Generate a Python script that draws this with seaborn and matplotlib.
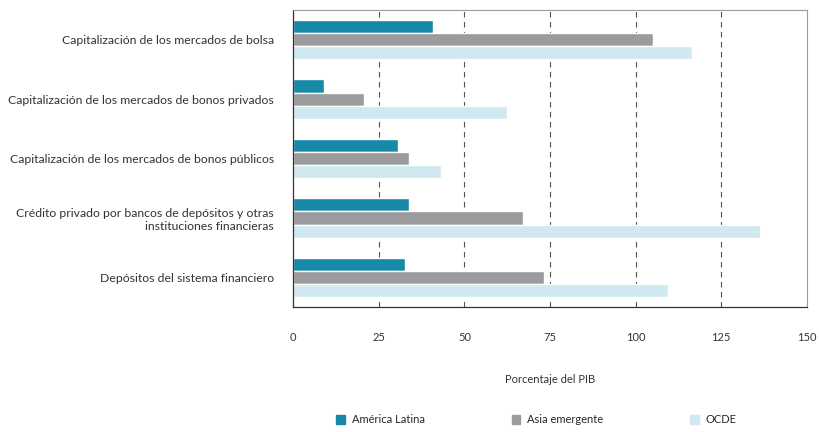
import pandas as pd
import numpy as np
import matplotlib
matplotlib.use("Agg")
import matplotlib.pyplot as plt
import seaborn as sns

categorias = [
    "Capitalización de los mercados de bolsa",
    "Capitalización de los mercados de bonos privados",
    "Capitalización de los mercados de bonos públicos",
    "Crédito privado por bancos de depósitos y otras\ninstituciones financieras",
    "Depósitos del sistema financiero",
]
regiones = ["América Latina", "Asia emergente", "OCDE"]
america_latina = [40.9, 8.9, 30.5, 33.7, 32.7]
asia_emergente = [105.1, 20.6, 33.9, 67.2, 73.2]
ocde = [116.4, 62.5, 43.3, 136.4, 109.5]
colores = ["#1688a8", "#9b9b9d", "#d0e8f0"]

df = pd.DataFrame({
    "categoria": categorias * 3,
    "region": [r for r in regiones for _ in categorias],
    "valor": america_latina + asia_emergente + ocde,
})

sns.set_style("white")
plt.rcParams["font.family"] = ["Lato", "DejaVu Sans"]

fig = plt.figure(figsize=(8.19, 4.32), dpi=100)
ax = fig.add_axes([0.358, 0.289, 0.627, 0.688])

sns.barplot(data=df, y="categoria", x="valor", hue="region", order=categorias,
            hue_order=regiones, palette=colores, width=0.66, saturation=1,
            orient="h", ax=ax, legend=False)

ax.set_xlim(0, 150)
ax.set_ylim(4.5, -0.5)
ax.set_xticks([0, 25, 50, 75, 100, 125, 150])
ax.set_xticklabels(["0", "25", "50", "75", "100", "125", "150"], fontsize=8, color="#333333")
ax.tick_params(axis="x", direction="out", length=4, pad=14, color="#333333", width=0.8)
ax.tick_params(axis="y", which="major", length=0, labelsize=8.8, labelcolor="#333333", pad=14)
ax.set_yticks(np.arange(-0.5, 5, 1), minor=True)
ax.tick_params(axis="y", which="minor", direction="in", length=4, color="#333333", width=0.8)
for x in [25, 50, 75, 100, 125]:
    ax.axvline(x, color="#555555", linestyle=(0, (5, 4)), linewidth=0.8, zorder=0)
ax.set_ylabel("")
ax.set_xlabel("Porcentaje del PIB", fontsize=8, color="#333333", labelpad=22)

for s in ["left", "bottom"]:
    ax.spines[s].set_color("#333333")
    ax.spines[s].set_linewidth(0.9)
for s in ["top", "right"]:
    ax.spines[s].set_color("#9a9a9a")
    ax.spines[s].set_linewidth(0.8)

handles = [plt.Rectangle((0, 0), 1, 1, color=c) for c in colores]
fig.legend(handles, regiones, loc="center", bbox_to_anchor=(0.655, 0.028), ncol=3,
           frameon=False, fontsize=8, handlelength=0.8, handleheight=0.8,
           columnspacing=7.8, handletextpad=0.6)

fig.savefig("out.png", dpi=100)
